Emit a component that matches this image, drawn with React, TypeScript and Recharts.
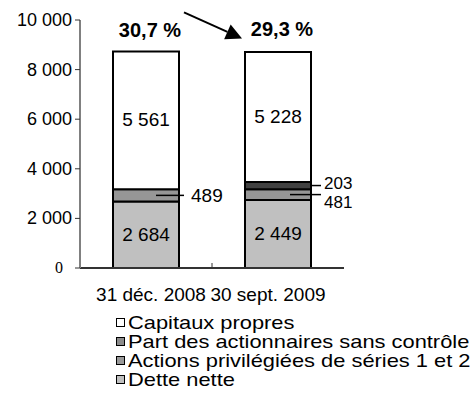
import React from 'react';
import { BarChart, Bar, XAxis, YAxis, LabelList } from 'recharts';

const categories = ['31 déc. 2008', '30 sept. 2009'];
const detteNette = [2684, 2740];
const actionsPrivilegiees = [489, 440];
const partActionnaires = [null, 290];
const capitauxPropres = [5561, 5240];

const detteLabels = ['2 684', '2 449'];
const actionsLabels = ['489', '481'];
const partLabels = ['', '203'];
const capitauxLabels = ['5 561', '5 228'];
const ratios = ['30,7 %', '29,3 %'];

const yTicks = [0, 2000, 4000, 6000, 8000, 10000];

const legendItems = [
    { name: 'Capitaux propres', color: '#ffffff' },
    { name: 'Part des actionnaires sans contrôle', color: '#8c8c8c' },
    { name: 'Actions privilégiées de séries 1 et 2', color: '#999999' },
    { name: 'Dette nette', color: '#c0c0c0' },
];

const W = 475;
const H = 411;
const LEFT = 80;
const RIGHT = 131;
const BAND = (W - LEFT - RIGHT) / categories.length;
const FONT = '"Liberation Sans", Arial, sans-serif';
// category labels sit a bit closer together than the bar centres
const CAT_SHIFT = [5, -10];

const data = categories.map((c, i) => ({
    category: c,
    dette: detteNette[i],
    actions: actionsPrivilegiees[i],
    part: partActionnaires[i],
    capitaux: capitauxPropres[i],
    detteLabel: detteLabels[i],
    actionsLabel: actionsLabels[i],
    partLabel: partLabels[i],
    capitauxLabel: capitauxLabels[i],
    ratio: ratios[i],
}));

const fmt = (v: number) => String(v).replace(/\B(?=(\d{3})+(?!\d))/g, ' ');

const YTick = (props: any) => {
    const { x, y, payload } = props;
    if (payload.value === 0) {
        return (
            <text x={x - 9} y={y} dy={5} textAnchor="end" fontSize={16} fontFamily='"Liberation Serif", serif' fill="#000">
                0
            </text>
        );
    }
    return (
        <text x={x} y={y} dy={6} textAnchor="end" fontSize={18} fontFamily={FONT} fill="#000">
            {fmt(payload.value)}
        </text>
    );
};

const XTick = (props: any) => {
    const { x, y, payload, index } = props;
    return (
        <g>
            {index > 0 && <line x1={x - BAND / 2} x2={x - BAND / 2} y1={y} y2={y - 5} stroke="#333" strokeWidth={1} />}
            <text x={x + (CAT_SHIFT[index] || 0)} y={y} dy={33} textAnchor="middle" fontSize={19} fontFamily={FONT} fill="#000">
                {payload.value}
            </text>
        </g>
    );
};

const CenterLabel = (props: any) => {
    const { x, y, width, height, value } = props;
    if (!value) return null;
    return (
        <text x={x + width / 2} y={y + height / 2} dy={6} textAnchor="middle" fontSize={19} fontFamily={FONT} fill="#000">
            {value}
        </text>
    );
};

const ActionsLabel = (props: any) => {
    const { x, y, width, height, value, index } = props;
    if (!value) return null;
    const cy = y + height / 2;
    if (index === 0) {
        return (
            <g>
                <line x1={x + width / 2 + 10} x2={x + width + 5} y1={cy} y2={cy} stroke="#000" strokeWidth={1.5} />
                <text x={x + width + 12} y={cy} dy={7} fontSize={19} fontFamily={FONT} fill="#000">{value}</text>
            </g>
        );
    }
    return (
        <g>
            <line x1={x + width / 2 + 12} x2={x + width + 10} y1={cy} y2={cy} stroke="#000" strokeWidth={1.5} />
            <text x={x + width + 13} y={cy} dy={13} fontSize={17} fontFamily={FONT} fill="#000">{value}</text>
        </g>
    );
};

const PartLabel = (props: any) => {
    const { x, y, width, height, value } = props;
    if (!value) return null;
    const cy = y + height / 2;
    return (
        <g>
            <line x1={x + width} x2={x + width + 10} y1={cy} y2={cy} stroke="#000" strokeWidth={1.5} />
            <text x={x + width + 13} y={cy} dy={3} fontSize={17} fontFamily={FONT} fill="#000">{value}</text>
        </g>
    );
};

const RatioLabel = (props: any) => {
    const { x, y, width, value, index } = props;
    // arrow from first ratio to the second one
    const sx = x + width + 5, sy = y - 39;
    const tx = x + width + 63, ty = y - 13;
    const len = Math.hypot(tx - sx, ty - sy);
    const ux = (tx - sx) / len, uy = (ty - sy) / len;
    const bx = tx - 16 * ux, by = ty - 16 * uy;
    const head = `${tx},${ty} ${bx - 8 * uy},${by + 8 * ux} ${bx + 8 * uy},${by - 8 * ux}`;
    return (
        <g>
            <text x={x + width / 2 + 4} y={y - 14 - index * 2} textAnchor="middle" fontSize={20} fontWeight="bold" fontFamily={FONT} fill="#000">
                {value}
            </text>
            {index === 0 && (
                <g>
                    <line x1={sx} y1={sy} x2={bx} y2={by} stroke="#000" strokeWidth={2} />
                    <polygon points={head} fill="#000" />
                </g>
            )}
        </g>
    );
};

export default function App() {
    return (
        <div style={{ position: 'absolute', left: 0, top: 0, width: W, height: H, background: '#fff', overflow: 'hidden' }}>
            <BarChart width={W} height={H} data={data} margin={{ top: 20, right: RIGHT, bottom: 0, left: 0 }} barSize={66}>
                <XAxis
                    dataKey="category"
                    height={143}
                    tickLine={false}
                    tickSize={0}
                    tickMargin={0}
                    axisLine={{ stroke: '#333', strokeWidth: 2 }}
                    tick={<XTick />}
                    interval={0}
                />
                <YAxis
                    width={LEFT}
                    domain={[0, 10000]}
                    ticks={yTicks}
                    interval={0}
                    tickSize={5}
                    tickMargin={3}
                    tickLine={{ stroke: '#333' }}
                    axisLine={{ stroke: '#808080', strokeWidth: 2 }}
                    tick={<YTick />}
                />
                <Bar dataKey="dette" stackId="a" fill="#c0c0c0" stroke="#000" strokeWidth={2} isAnimationActive={false}>
                    <LabelList dataKey="detteLabel" content={<CenterLabel />} />
                </Bar>
                <Bar dataKey="actions" stackId="a" fill="#969696" stroke="#000" strokeWidth={2} isAnimationActive={false}>
                    <LabelList dataKey="actionsLabel" content={<ActionsLabel />} />
                </Bar>
                <Bar dataKey="part" stackId="a" fill="#404040" stroke="#000" strokeWidth={2} isAnimationActive={false}>
                    <LabelList dataKey="partLabel" content={<PartLabel />} />
                </Bar>
                <Bar dataKey="capitaux" stackId="a" fill="#ffffff" stroke="#000" strokeWidth={2} isAnimationActive={false}>
                    <LabelList dataKey="capitauxLabel" content={<CenterLabel />} />
                    <LabelList dataKey="ratio" content={<RatioLabel />} />
                </Bar>
            </BarChart>
            <div style={{ position: 'absolute', left: 116, top: 313, fontFamily: FONT, fontSize: 19, lineHeight: '19px', color: '#000' }}>
                {legendItems.map((item) => (
                    <div key={item.name} style={{ display: 'flex', alignItems: 'center', whiteSpace: 'nowrap' }}>
                        <span style={{ display: 'inline-block', width: 7, height: 7, border: '1.5px solid #000', background: item.color, marginRight: 3 }} />
                        <span style={{ display: 'inline-block', transform: 'scaleX(1.15)', transformOrigin: 'left center' }}>{item.name}</span>
                    </div>
                ))}
            </div>
        </div>
    );
}
